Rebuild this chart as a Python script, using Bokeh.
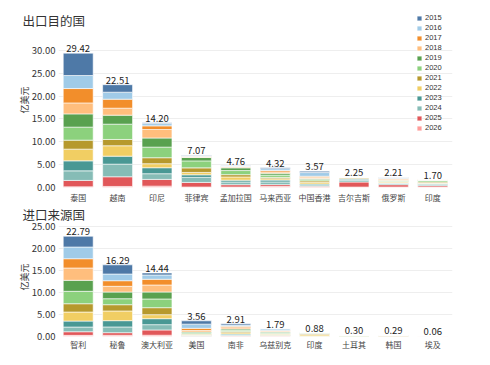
from bokeh.plotting import figure
from bokeh.layouts import column
from bokeh.models import (ColumnDataSource, Legend, LegendItem, NumeralTickFormatter,
                          FixedTicker)
from bokeh.core.properties import value
from bokeh.embed import file_html
from bokeh.resources import INLINE

FONT = "Noto Sans CJK SC"
LEG_FONT = "Liberation Sans"

years = ["2015", "2016", "2017", "2018", "2019", "2020",
         "2021", "2022", "2023", "2024", "2025", "2026"]
colors = ["#4E79A7", "#A0CBE8", "#F28E2B", "#FFBE7D", "#59A14F", "#8CD17D",
          "#B6992D", "#F1CE63", "#499894", "#86BCB6", "#E15759", "#FF9D9A"]

export_title = "出口目的国"
import_title = "进口来源国"
y_label = "亿美元"
export_ticks = [0, 5, 10, 15, 20, 25, 30]
import_ticks = [0, 5, 10, 15, 20, 25]

export_countries = ["泰国", "越南", "印尼", "菲律宾", "孟加拉国",
                    "马来西亚", "中国香港", "吉尔吉斯", "俄罗斯", "印度"]
ex_2015 = [4.90, 1.64, 0.20, 0.10, 0.05, 0.20, 0.30, 0.00, 0.05, 0.00]
ex_2016 = [2.85, 1.53, 0.50, 0.15, 0.10, 0.40, 0.80, 0.00, 0.20, 0.02]
ex_2017 = [3.15, 1.97, 0.80, 0.10, 0.10, 0.30, 0.20, 0.00, 0.15, 0.03]
ex_2018 = [2.40, 1.53, 1.86, 0.15, 0.20, 0.30, 0.30, 0.00, 0.20, 0.05]
ex_2019 = [2.90, 1.97, 2.00, 0.74, 0.60, 0.40, 0.20, 0.05, 0.10, 0.10]
ex_2020 = [2.85, 3.35, 2.32, 1.53, 0.90, 0.50, 0.30, 0.10, 0.20, 0.30]
ex_2021 = [1.97, 1.38, 1.31, 1.00, 0.50, 0.30, 0.30, 0.20, 0.10, 0.20]
ex_2022 = [2.56, 2.28, 0.88, 0.52, 0.70, 0.30, 0.40, 0.05, 0.20, 0.10]
ex_2023 = [2.19, 1.75, 1.31, 0.57, 0.40, 0.40, 0.20, 0.30, 0.10, 0.20]
ex_2024 = [2.10, 2.76, 1.25, 1.10, 0.60, 0.60, 0.30, 0.35, 0.30, 0.30]
ex_2025 = [1.40, 2.12, 1.47, 1.00, 0.50, 0.40, 0.20, 1.10, 0.50, 0.30]
ex_2026 = [0.15, 0.23, 0.30, 0.11, 0.11, 0.22, 0.07, 0.10, 0.11, 0.10]

import_countries = ["智利", "秘鲁", "澳大利亚", "美国", "南非",
                    "乌兹别克", "印度", "土耳其", "韩国", "埃及"]
im_2015 = [2.45, 2.09, 0.45, 0.75, 0.30, 0.05, 0.00, 0.00, 0.00, 0.00]
im_2016 = [2.66, 1.52, 0.98, 0.95, 0.30, 0.35, 0.00, 0.00, 0.00, 0.00]
im_2017 = [2.11, 1.27, 1.30, 0.50, 0.30, 0.15, 0.00, 0.00, 0.00, 0.00]
im_2018 = [2.80, 1.30, 1.59, 0.35, 0.30, 0.20, 0.05, 0.00, 0.00, 0.06]
im_2019 = [2.50, 1.52, 1.59, 0.20, 0.30, 0.20, 0.05, 0.05, 0.05, 0.00]
im_2020 = [2.82, 1.36, 1.98, 0.25, 0.30, 0.20, 0.20, 0.20, 0.15, 0.00]
im_2021 = [1.89, 1.43, 1.59, 0.15, 0.25, 0.15, 0.20, 0.03, 0.09, 0.00]
im_2022 = [2.05, 2.20, 0.91, 0.15, 0.30, 0.20, 0.30, 0.02, 0.00, 0.00]
im_2023 = [1.36, 1.43, 1.36, 0.10, 0.20, 0.10, 0.03, 0.00, 0.00, 0.00]
im_2024 = [1.07, 1.30, 1.20, 0.10, 0.20, 0.10, 0.03, 0.00, 0.00, 0.00]
im_2025 = [0.82, 0.59, 1.20, 0.04, 0.10, 0.05, 0.01, 0.00, 0.00, 0.00]
im_2026 = [0.26, 0.28, 0.29, 0.02, 0.06, 0.04, 0.01, 0.00, 0.00, 0.00]

export_series = [ex_2015, ex_2016, ex_2017, ex_2018, ex_2019, ex_2020,
                 ex_2021, ex_2022, ex_2023, ex_2024, ex_2025, ex_2026]
import_series = [im_2015, im_2016, im_2017, im_2018, im_2019, im_2020,
                 im_2021, im_2022, im_2023, im_2024, im_2025, im_2026]


def make_chart(title, countries, series, ticks, frame_h, y_end, min_top,
               title_standoff, x_label_standoff, with_legend):
    data = {"country": countries}
    for yr, vals in zip(years, series):
        data[yr] = vals
    totals = [sum(col) for col in zip(*series)]
    data["total"] = totals
    data["label"] = ["%.2f" % t for t in totals]
    src = ColumnDataSource(data)

    p = figure(x_range=countries, y_range=(0, y_end),
               frame_width=394, frame_height=frame_h,
               output_backend="svg", toolbar_location=None,
               min_border_left=58, min_border_right=30,
               min_border_top=min_top, min_border_bottom=10)
    p.title.text = title
    p.title.text_font = FONT
    p.title.text_font_size = "12.5px"
    p.title.text_font_style = "normal"
    p.title.text_color = "#333333"
    p.title.align = "left"
    p.title.offset = -36
    p.title.standoff = title_standoff

    stack_years = years[::-1]
    stack_colors = colors[::-1]
    rends = p.vbar_stack(stack_years, x="country", width=0.76, source=src,
                         color=stack_colors, line_color="white", line_width=0.6)
    rmap = dict(zip(stack_years, rends))

    p.text(x="country", y="total", text="label", source=src,
           text_align="center", text_baseline="bottom", y_offset=-1,
           text_font=value(FONT), text_font_size="9.5px", text_color="#222222")

    p.outline_line_color = None
    p.xgrid.grid_line_color = None
    p.ygrid.grid_line_color = "#eeeeee"
    p.ygrid.grid_line_width = 1

    p.yaxis.ticker = FixedTicker(ticks=ticks)
    p.yaxis.formatter = NumeralTickFormatter(format="0.00")
    p.yaxis.axis_label = y_label
    p.yaxis.axis_label_text_font = FONT
    p.yaxis.axis_label_text_font_size = "9px"
    p.yaxis.axis_label_text_font_style = "normal"
    p.yaxis.axis_label_text_color = "#333333"
    p.yaxis.axis_label_standoff = -2
    p.yaxis.major_label_standoff = 3
    p.yaxis.major_label_text_font = FONT
    p.yaxis.major_label_text_font_size = "9.5px"
    p.yaxis.major_label_text_color = "#333333"

    p.xaxis.major_label_text_font = FONT
    p.xaxis.major_label_text_font_size = "8px"
    p.xaxis.major_label_text_color = "#444444"
    p.xaxis.major_label_standoff = x_label_standoff
    p.xaxis.axis_label_standoff = 0

    for ax in (p.xaxis, p.yaxis):
        ax.axis_line_color = None
        ax.major_tick_line_color = None
        ax.minor_tick_line_color = None
        ax.major_tick_out = 0
        ax.major_tick_in = 0
        ax.minor_tick_out = 0
        ax.minor_tick_in = 0

    if with_legend:
        items = [LegendItem(label=yr, renderers=[rmap[yr]]) for yr in years]
        legend = Legend(items=items, location=(358, 55), orientation="vertical",
                        label_text_font=LEG_FONT, label_text_font_size="7.5px",
                        label_text_color="#333333", glyph_width=6, glyph_height=6,
                        label_height=7, label_standoff=3, spacing=1,
                        padding=0, margin=0, border_line_color=None,
                        background_fill_alpha=0)
        p.add_layout(legend)
    return p


top = make_chart(export_title, export_countries, export_series, export_ticks,
                 frame_h=175, y_end=38.32, min_top=12, title_standoff=-34,
                 x_label_standoff=4, with_legend=True)
bottom = make_chart(import_title, import_countries, import_series, import_ticks,
                    frame_h=119, y_end=27.05, min_top=12, title_standoff=-12,
                    x_label_standoff=2, with_legend=False)

layout = column(top, bottom, spacing=0)
open("out.html", "w").write(file_html(layout, INLINE))
